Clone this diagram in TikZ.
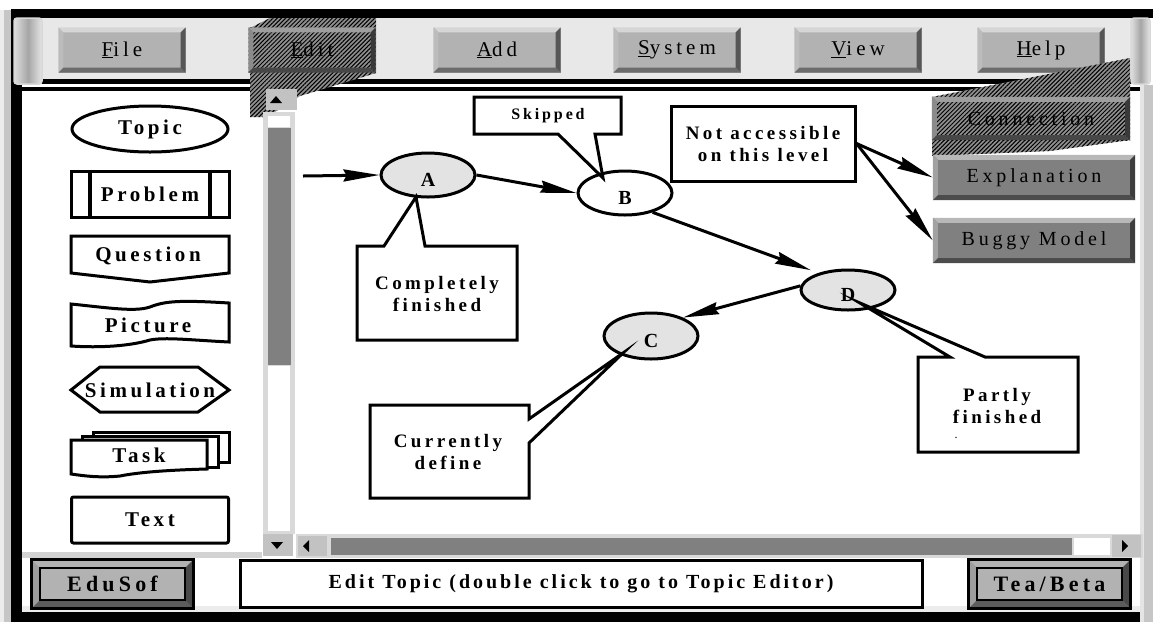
\documentclass[tikz,border=0pt]{standalone}
\usepackage{fontspec}
\setmainfont{Liberation Serif}
\newfontfamily\menufont[LetterSpace=19]{Liberation Serif}
\newfontfamily\tagfont[LetterSpace=17]{Liberation Serif}
\newfontfamily\notefont[LetterSpace=18]{Liberation Serif}
\newfontfamily\statfont[LetterSpace=15]{Liberation Serif}
\usetikzlibrary{shapes.geometric,arrows.meta,patterns.meta,calc}

\definecolor{winbg}{gray}{0.91}
\definecolor{btnface}{gray}{0.70}
\definecolor{btnlight}{gray}{0.84}
\definecolor{btndark}{gray}{0.42}
\definecolor{toolface}{gray}{0.50}
\definecolor{toollight}{gray}{0.72}
\definecolor{tooldark}{gray}{0.30}
\definecolor{hatchbase}{gray}{0.56}
\definecolor{hatchlight}{gray}{0.62}
\definecolor{hatchdark}{gray}{0.28}
\definecolor{framelight}{gray}{0.70}
\definecolor{framedark}{gray}{0.36}
\definecolor{nodegray}{gray}{0.89}
\definecolor{barfill}{gray}{0.76}
\definecolor{thumbgray}{gray}{0.50}

% bevelled edges round a named button: [width]{node}{light}{dark}
\newcommand{\btnbevel}[4][5]{%
  \fill[#3] (#2.north west) -- (#2.north east) -- ($(#2.north east)+(-#1,#1)$) -- ($(#2.north west)+(#1,#1)$) -- cycle;
  \fill[#3!88!black] (#2.north west) -- ($(#2.north west)+(#1,#1)$) -- ($(#2.south west)+(#1,-#1)$) -- (#2.south west) -- cycle;
  \fill[#4] (#2.south west) -- (#2.south east) -- ($(#2.south east)+(-#1,-#1)$) -- ($(#2.south west)+(#1,-#1)$) -- cycle;
  \fill[#4!80!black] (#2.north east) -- (#2.south east) -- ($(#2.south east)+(-#1,-#1)$) -- ($(#2.north east)+(-#1,#1)$) -- cycle;
}

\begin{document}
\begin{tikzpicture}[x=1pt,y=-1pt,
    menubtn/.style={rectangle,fill=btnface,minimum width=127pt,minimum height=45pt,inner sep=0pt,
      font=\menufont\fontsize{21}{24}\selectfont},
    toolbtn/.style={rectangle,fill=toolface,minimum width=202pt,minimum height=45pt,inner sep=0pt,
      font=\menufont\fontsize{20}{24}\selectfont},
    statbtn/.style={rectangle,fill=btnface,minimum width=161pt,minimum height=48pt,inner sep=0pt,
      font=\menufont\bfseries\fontsize{22}{24}\selectfont},
    hatched/.style={preaction={fill=hatchbase},pattern={Lines[angle=45,distance=3pt,line width=1pt]},pattern color=black},
    shapeline/.style={line width=3pt,line join=miter,fill=white},
    palette/.style={inner sep=0pt,font=\tagfont\bfseries\fontsize{21}{24}\selectfont},
    topicnode/.style={ellipse,draw,line width=3pt,minimum width=94pt,minimum height=44pt,inner sep=0pt,
      text height=22pt,text depth=0pt,font=\bfseries\fontsize{20}{24}\selectfont},
    notetext/.style={align=center,inner sep=0pt,font=\notefont\bfseries\fontsize{19}{22}\selectfont},
    link/.style={line width=3pt,-{Stealth[length=36pt,width=12pt,inset=3pt]}},
    callout/.style={draw,line width=3pt,fill=white,line join=miter,miter limit=20},
  ]
\useasboundingbox (0,0) rectangle (1153,622);

% window frame
\fill[white] (0,0) rectangle (1153,622);
\fill[gray!15] (0,10) rectangle (4,622);
\fill[gray!45] (4,10) rectangle (11,622);
\fill[black] (11,9) rectangle (1153,18);
\fill[black] (11,9) rectangle (22,622);
\fill[black] (11,612) rectangle (1143,622);
\fill[gray!20] (1140,85) rectangle (1144,622);
\fill[gray!45] (1144,85) rectangle (1153,622);
\fill[winbg] (22,18) rectangle (1132,79);
\fill[black] (22,79) rectangle (1140,84);
\fill[black] (22,87) rectangle (1140,91);
\fill[gray!15] (22,606) rectangle (1140,612);
\fill[gray!35] (22,552) rectangle (262,558);

% menu bar
\node[menubtn] (file) at (122,50) {\underline{F}ile};
\btnbevel{file}{btnlight}{btndark}
\path[hatched] (250,28) -- (270,18) -- (376,18) -- (376,73) -- (300,96) -- (267,117) -- (250,117) -- cycle;
\node[menubtn,hatched] (edit) at (312,50) {\underline{E}dit};
\btnbevel{edit}{hatchlight}{hatchdark}
\node[menubtn] (add) at (497,50) {\underline{A}dd};
\btnbevel{add}{btnlight}{btndark}
\node[menubtn] (system) at (677,50) {\underline{S}ystem};
\btnbevel{system}{btnlight}{btndark}
\node[menubtn] (view) at (858,50) {\underline{V}iew};
\btnbevel{view}{btnlight}{btndark}
\node[menubtn] (help) at (1041,50) {\underline{H}elp};
\btnbevel{help}{btnlight}{btndark}

% connection buttons
\path[hatched] (932,97) -- (1130,58) -- (1130,97) -- cycle;
\path[hatched] (932,140) -- (1130,140) -- (1050,151) -- (932,156) -- cycle;
\node[toolbtn,hatched,minimum width=198pt,minimum height=43pt] (conn) at (1031,118.5) {Connection};
\btnbevel{conn}{hatchlight}{hatchdark}
\node[toolbtn] (expl) at (1034,177.5) {Explanation};
\btnbevel{expl}{toollight}{tooldark}
\node[toolbtn] (buggy) at (1034,240.5) {Buggy Model};
\btnbevel{buggy}{toollight}{tooldark}

% knobs
\draw[gray!30,line width=1.5pt,rounded corners=3pt,left color=gray!25,right color=gray!20,middle color=gray!70] (14,18) rectangle (42,84);
\draw[gray!30,line width=1.5pt,rounded corners=3pt,left color=gray!25,right color=gray!20,middle color=gray!70] (1131,18) rectangle (1150,84);

% vertical scroll bar
\fill[gray!30] (263,112) rectangle (295,534);
\fill[white] (268,116) rectangle (290,531);
\draw[gray!30,fill=thumbgray] (267,127) rectangle (291,365);
\fill[barfill] (266,89) rectangle (297,110);
\fill (270,103) -- (282,103) -- (276,96) -- cycle;
\fill[barfill] (263,534) rectangle (293,556);
\fill (271,542) -- (283,542) -- (277,549) -- cycle;

% horizontal scroll bar
\fill[gray!30] (296,534) rectangle (1143,558);
\fill[thumbgray] (331,538) rectangle (1072,555);
\fill[white] (1074,538) rectangle (1110,555);
\fill[barfill] (298,536) rectangle (327,556);
\fill (309,540) -- (309,552) -- (303,546) -- cycle;
\fill[barfill] (1112,535) rectangle (1141,557);
\fill (1122,540) -- (1122,552) -- (1128,546) -- cycle;

% palette of topic types
\node[palette,ellipse,draw,line width=3pt,minimum width=156pt,minimum height=46pt] (topic) at (150,129) {Topic};
\node[palette,draw,line width=3pt,minimum width=158pt,minimum height=46pt] (problem) at (150,194) {Problem};
\draw[line width=4pt] ($(problem.north west)+(20,0)$) -- ($(problem.south west)+(20,0)$);
\draw[line width=4pt] ($(problem.north east)+(-21,0)$) -- ($(problem.south east)+(-21,0)$);
\draw[shapeline] (71,236) -- (229,236) -- (229,273) -- (150,282) -- (71,273) -- cycle;
\node[palette] (question) at (148,256) {Question};
\draw[shapeline] (71,304) .. controls (110,308) and (135,312) .. (150,307)
    .. controls (165,301) and (180,300) .. (229,303) -- (229,342)
    .. controls (190,340) and (165,337) .. (150,340)
    .. controls (130,346) and (100,348) .. (71,346) -- cycle;
\node[palette] (picture) at (148,325) {Picture};
\draw[shapeline] (71,390) -- (100,367) -- (198,367) -- (229,390) -- (198,412) -- (100,412) -- cycle;
\node[palette] (simulation) at (150,390) {Simulation};
\draw[shapeline] (93,432) rectangle (229,462);
\draw[shapeline] (82,436) rectangle (218,467);
\draw[shapeline] (71,440) -- (207,440) -- (207,469) .. controls (170,470) and (140,472) .. (120,476)
    .. controls (100,478) and (85,476) .. (71,474) -- cycle;
\node[palette] (task) at (139,455) {Task};
\node[palette,draw,line width=3pt,rounded corners=2pt,minimum width=157pt,minimum height=46pt] (texttype) at (150,520) {Text};

% topic graph
\node[topicnode,fill=nodegray] (A) at (428,175) {A};
\node[topicnode,fill=white] (B) at (625,193) {B};
\node[topicnode,fill=nodegray,minimum height=46pt] (C) at (651,336) {C};
\node[topicnode,fill=nodegray,minimum height=40pt] (D) at (848,290) {D};
\coordinate (entry) at (303,176);
\draw[link] (entry) -- (A.west);
\draw[link] (A.east) -- (B.west);
\draw[link,shorten >=8pt] (B.-35) -- (D.150);
\draw[link] (D.175) -- (C.30);

% notes
\draw[callout] (474,97) -- (621,97) -- (621,134) -- (595,134) -- (603,178) -- (558,134) -- (474,134) -- cycle;
\node[notetext,font=\notefont\bfseries\fontsize{16}{18}\selectfont] (skipped) at (548,116) {Skipped};
\draw[callout] (357,246) -- (384,246) -- (416,197) -- (425,246) -- (517,246) -- (517,340) -- (357,340) -- cycle;
\node[notetext] (complete) at (437,294) {Completely\\finished};
\draw[callout] (370,405) -- (529,405) -- (529,419) -- (623,353) -- (529,443) -- (529,498) -- (370,498) -- cycle;
\node[notetext] (current) at (448,452) {Currently\\define};
\draw[callout] (918,357) -- (950,357) -- (860,303) -- (985,357) -- (1078,357) -- (1078,452) -- (918,452) -- cycle;
\node[notetext] (partly) at (997,406) {Partly\\finished};
\node[inner sep=0pt,font=\fontsize{12}{12}\selectfont] (stray) at (956,438) {.};
\node[notetext,draw,line width=3pt,fill=white,minimum width=184pt,minimum height=75pt] (na) at (763,143.5) {Not accessible\\on this level};
\draw[link] (na.east) -- (expl.west);
\draw[link] (na.east) -- (buggy.west);

% status bar
\node[statbtn] (edusof) at (112.5,584) {EduSof};
\btnbevel[8]{edusof}{framelight}{framedark}
\draw[line width=3pt] (edusof.north west) rectangle (edusof.south east);
\draw[line width=2.5pt] ($(edusof.north west)+(8,8)$) rectangle ($(edusof.south east)+(-8,-8)$);
\node[draw,line width=3pt,fill=white,minimum width=682pt,minimum height=47pt,inner sep=0pt,
  font=\statfont\bfseries\fontsize{20}{22}\selectfont] (status) at (581,583.5) {Edit Topic (double click to go to Topic Editor)};
\node[statbtn] (teabeta) at (1049.5,584) {Tea/Beta};
\btnbevel[8]{teabeta}{framelight}{framedark}
\draw[line width=3pt] (teabeta.north west) rectangle (teabeta.south east);
\draw[line width=2.5pt] ($(teabeta.north west)+(8,8)$) rectangle ($(teabeta.south east)+(-8,-8)$);
\end{tikzpicture}
\end{document}
